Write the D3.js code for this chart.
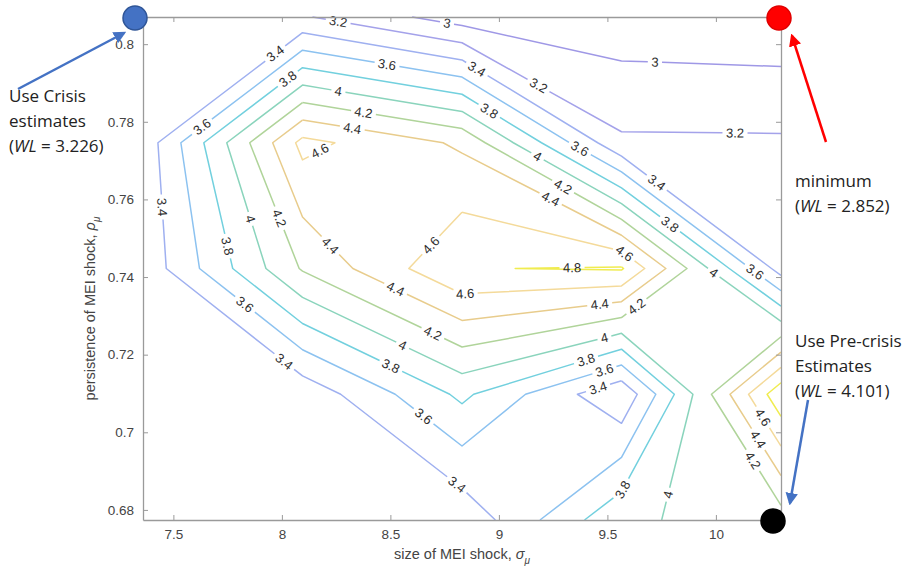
<!DOCTYPE html>
<html><head><meta charset="utf-8">
<script src="https://cdn.jsdelivr.net/npm/d3@7"></script>
<style>body{margin:0;background:#fff;} svg{display:block;}</style>
</head><body><svg id="chart" width="916" height="575"></svg>
<script>
// ---------------- data ----------------
const sigmaGrid = [7.36, 8.095, 8.83, 9.565, 10.30];          // size of MEI shock
const rhoGrid   = [0.807, 0.7746, 0.7422, 0.7098, 0.6774];    // persistence (top to bottom)
const wlGrid = [                                               // welfare loss WL
  [3.226, 3.220, 2.900, 2.876, 2.852],
  [3.270, 4.660, 4.365, 3.231, 3.228],
  [3.260, 4.220, 4.790, 4.820, 3.310],
  [3.250, 3.260, 3.845, 3.230, 4.950],
  [3.240, 3.240, 3.250, 3.966, 4.101]
];
const levels = [3.0, 3.2, 3.4, 3.6, 3.8, 4.0, 4.2, 4.4, 4.6, 4.8];
const levelColors = ["#9f98e6","#a4a2ea","#9fb0f0","#8cc2f0","#72d0de","#8ad4bc","#b0d49a","#e8cc8c","#f4da9a","#f0ec50"];
const xTicks = [7.5, 8, 8.5, 9, 9.5, 10];
const yTicks = [0.68, 0.70, 0.72, 0.74, 0.76, 0.78, 0.80];
// contour label spots: [level, sigma, rho]
const labelSpots = [
  [3.2,8.259,0.8057],[3.0,8.761,0.8055],[3.0,9.719,0.7954],[3.2,10.088,0.7771],
  [3.4,7.968,0.7977],[3.6,7.636,0.7784],[3.8,8.024,0.7913],[3.6,8.484,0.7946],
  [4.0,8.259,0.7874],[4.2,8.374,0.7817],[4.4,8.323,0.7779],[4.6,8.166,0.7735],
  [3.4,8.890,0.7928],[3.8,8.950,0.7823],[3.4,7.438,0.7580],[3.8,7.729,0.7477],
  [4.0,7.839,0.7547],[4.2,7.968,0.7547],[4.4,8.212,0.7475],[4.6,8.696,0.7477],
  [3.2,9.176,0.7887],[3.6,9.364,0.7722],[4.0,9.176,0.7709],[4.2,9.295,0.7632],
  [4.4,9.235,0.7598],[3.4,9.719,0.7637],[3.8,9.779,0.7529],[4.6,9.567,0.7452],
  [4.8,9.337,0.7426],[4.0,9.982,0.7405],[3.6,10.166,0.7403],[4.6,8.844,0.7361],
  [4.4,9.466,0.7323],[4.2,9.636,0.7323],[4.4,8.521,0.7366],[4.2,8.692,0.7251],
  [4.0,8.553,0.7220],[3.8,8.498,0.7166],[3.6,7.821,0.7323],[3.4,8.005,0.7178],
  [4.0,9.489,0.7238],[3.8,9.406,0.7178],[3.6,9.489,0.7155],[3.4,9.457,0.7114],
  [3.6,8.650,0.7039],[3.4,8.798,0.6859],[3.8,9.558,0.6856],[4.0,9.752,0.6843],
  [4.6,10.194,0.7031],[4.4,10.190,0.6980],[4.2,10.157,0.6923]
];
// annotated corner points
const cornerPoints = [
  {name:"crisis", sigma:7.36, rho:0.807, wl:3.226},
  {name:"minimum", sigma:10.30, rho:0.807, wl:2.852},
  {name:"precrisis", sigma:10.30, rho:0.6774, wl:4.101}
];

// ---------------- layout ----------------
const svg = d3.select("#chart");
const plot = {left:143, right:781, top:17, bottom:520};
const x = d3.scaleLinear().domain(d3.extent(sigmaGrid)).range([plot.left, plot.right]);
const y = d3.scaleLinear().domain(d3.extent(rhoGrid)).range([plot.bottom, plot.top]);
const AX = "#9a9a9a", TXT = "#444";
const FONT = "'Liberation Sans', Arial, Helvetica, sans-serif";

// ---------------- marching squares ----------------
function contourLines(level){
  const nR = rhoGrid.length, nC = sigmaGrid.length, Z = wlGrid;
  const pts = new Map(), adj = new Map();
  function ep(id, s1, r1, v1, s2, r2, v2){
    if(!pts.has(id)){ const t=(level-v1)/(v2-v1); pts.set(id,[s1+t*(s2-s1), r1+t*(r2-r1)]); }
    return id;
  }
  function link(a,b){
    if(!adj.has(a)) adj.set(a,[]); if(!adj.has(b)) adj.set(b,[]);
    adj.get(a).push(b); adj.get(b).push(a);
  }
  for(let i=0;i<nR-1;i++) for(let j=0;j<nC-1;j++){
    const a=Z[i][j], b=Z[i][j+1], c=Z[i+1][j+1], d=Z[i+1][j];
    const A=a>level, B=b>level, C=c>level, D=d>level;
    const s0=sigmaGrid[j], s1=sigmaGrid[j+1], r0=rhoGrid[i], r1=rhoGrid[i+1];
    const top = A!==B ? ep("h"+i+"_"+j, s0,r0,a, s1,r0,b) : null;
    const bot = D!==C ? ep("h"+(i+1)+"_"+j, s0,r1,d, s1,r1,c) : null;
    const lef = A!==D ? ep("v"+i+"_"+j, s0,r0,a, s0,r1,d) : null;
    const rig = B!==C ? ep("v"+i+"_"+(j+1), s1,r0,b, s1,r1,c) : null;
    const list = [top,rig,bot,lef].filter(e=>e!==null);
    if(list.length===2) link(list[0],list[1]);
    else if(list.length===4){
      const centerHigh = (a+b+c+d)/4 > level;
      if(A!==centerHigh){ link(top,lef); link(rig,bot); }
      else { link(top,rig); link(bot,lef); }
    }
  }
  const visited = new Set(), chains = [];
  function walk(start){
    const chain=[start]; visited.add(start);
    let prev=null, cur=start;
    while(true){
      const nb = adj.get(cur); let next=null;
      for(const n of nb){ if(n!==prev && !visited.has(n)){ next=n; break; } }
      if(next===null){
        const closed = chain.length>2 && nb.includes(start) && prev!==start;
        if(closed) chain.push(start);
        return {ids:chain, closed};
      }
      chain.push(next); visited.add(next); prev=cur; cur=next;
    }
  }
  for(const [k,v] of adj) if(v.length===1 && !visited.has(k)) chains.push(walk(k));
  for(const [k] of adj) if(!visited.has(k)) chains.push(walk(k));
  return chains.map(ch => ({closed:ch.closed, pts: ch.ids.map(id => [x(pts.get(id)[0]), y(pts.get(id)[1])])}));
}

// ---------------- contour lines + labels ----------------
const gLines = svg.append("g");
const gLabels = svg.append("g");
const lineGen = d3.line();

const allLines = levels.map((lv,k) => ({level:lv, color:levelColors[k], polys: contourLines(lv)}));
allLines.forEach(L => L.polys.forEach(p => {
  p.cum=[0];
  for(let i=1;i<p.pts.length;i++) p.cum.push(p.cum[i-1]+Math.hypot(p.pts[i][0]-p.pts[i-1][0], p.pts[i][1]-p.pts[i-1][1]));
  p.gaps=[];
}));

labelSpots.forEach(([lv, s, r]) => {
  const L = allLines.find(d => Math.abs(d.level-lv)<1e-9); if(!L) return;
  const px=x(s), py=y(r);
  let best=null;
  L.polys.forEach(p => {
    for(let i=1;i<p.pts.length;i++){
      const [x1,y1]=p.pts[i-1], [x2,y2]=p.pts[i];
      const dx=x2-x1, dy=y2-y1, len2=dx*dx+dy*dy; if(len2<1e-9) continue;
      let t=((px-x1)*dx+(py-y1)*dy)/len2; t=Math.max(0,Math.min(1,t));
      const qx=x1+t*dx, qy=y1+t*dy, dist=Math.hypot(px-qx,py-qy);
      if(!best || dist<best.dist) best={dist, p, qx, qy, s:p.cum[i-1]+t*Math.sqrt(len2), ang:Math.atan2(dy,dx)*180/Math.PI};
    }
  });
  if(!best) return;
  let a=best.ang; if(a>90) a-=180; if(a<=-90) a+=180;
  const t = gLabels.append("text")
    .attr("transform", `translate(${best.qx},${best.qy}) rotate(${a})`)
    .attr("text-anchor","middle").attr("dy","0.35em")
    .attr("font-family",FONT)
    .attr("font-size",13).attr("fill","#2e2e2e")
    .text(d3.format("~g")(lv));
  const w = t.node().getComputedTextLength();
  best.p.gaps.push([best.s - w/2 - 3.5, best.s + w/2 + 3.5]);
});

function subPath(p, sa, sb){
  const out=[]; const P=p.pts, C=p.cum;
  function at(s){
    for(let i=1;i<P.length;i++) if(s<=C[i]+1e-9){
      const seg=C[i]-C[i-1]; const t= seg>0 ? (s-C[i-1])/seg : 0;
      return [P[i-1][0]+t*(P[i][0]-P[i-1][0]), P[i-1][1]+t*(P[i][1]-P[i-1][1])];
    }
    return P[P.length-1];
  }
  out.push(at(sa));
  for(let i=0;i<P.length;i++) if(C[i]>sa && C[i]<sb) out.push(P[i]);
  out.push(at(sb));
  return out;
}

allLines.forEach(L => L.polys.forEach(p => {
  const total = p.cum[p.cum.length-1];
  let gaps=[];
  p.gaps.forEach(([a,b]) => {
    if(p.closed){
      if(a<0){ gaps.push([0,b]); gaps.push([total+a,total]); }
      else if(b>total){ gaps.push([a,total]); gaps.push([0,b-total]); }
      else gaps.push([a,b]);
    } else gaps.push([Math.max(0,a), Math.min(total,b)]);
  });
  gaps.sort((u,v)=>u[0]-v[0]);
  const merged=[];
  gaps.forEach(g => { if(merged.length && g[0]<=merged[merged.length-1][1]) merged[merged.length-1][1]=Math.max(merged[merged.length-1][1],g[1]); else merged.push(g.slice()); });
  let s=0; const pieces=[];
  merged.forEach(g => { if(g[0]>s) pieces.push([s,g[0]]); s=Math.max(s,g[1]); });
  if(s<total) pieces.push([s,total]);
  pieces.forEach(([a,b]) => {
    if(b-a<0.5) return;
    gLines.append("path").attr("d", lineGen(subPath(p,a,b)))
      .attr("fill","none").attr("stroke",L.color).attr("stroke-width",1.5)
      .attr("stroke-linejoin","round");
  });
}));

// ---------------- axes ----------------
const fmtY = d => d3.format(".2~f")(d);
const gx = svg.append("g").attr("transform",`translate(0,${plot.bottom})`)
  .call(d3.axisBottom(x).tickValues(xTicks).tickFormat(d3.format("~g")).tickSizeInner(-5).tickSizeOuter(0).tickPadding(9));
const gy = svg.append("g").attr("transform",`translate(${plot.left},0)`)
  .call(d3.axisLeft(y).tickValues(yTicks).tickFormat(fmtY).tickSizeInner(-5).tickSizeOuter(0).tickPadding(9));
const gt = svg.append("g").attr("transform",`translate(0,${plot.top})`)
  .call(d3.axisTop(x).tickValues(xTicks).tickFormat("").tickSizeInner(-5).tickSizeOuter(0));
const gr = svg.append("g").attr("transform",`translate(${plot.right},0)`)
  .call(d3.axisRight(y).tickValues(yTicks).tickFormat("").tickSizeInner(-5).tickSizeOuter(0));
[gx,gy,gt,gr].forEach(g => {
  g.selectAll(".domain").attr("stroke",AX).attr("stroke-width",1.3);
  g.selectAll(".tick line").attr("stroke",AX).attr("stroke-width",1);
  g.selectAll("text").attr("fill",TXT).attr("font-size",13.5).attr("font-family",FONT);
});

// axis titles
const xt = svg.append("text").attr("x",(plot.left+plot.right)/2).attr("y",559)
  .attr("text-anchor","middle").attr("font-family",FONT)
  .attr("font-size",14.5).attr("fill",TXT);
xt.append("tspan").text("size of MEI shock, ");
xt.append("tspan").attr("font-style","italic").text("σ");
xt.append("tspan").attr("font-style","italic").attr("font-size",10).attr("dy",5).text("μ");

const yt = svg.append("text").attr("transform",`translate(95,${(plot.top+plot.bottom)/2+40}) rotate(-90)`)
  .attr("text-anchor","middle").attr("font-family",FONT)
  .attr("font-size",14.5).attr("fill",TXT);
yt.append("tspan").text("persistence of MEI shock, ");
yt.append("tspan").attr("font-style","italic").text("ρ");
yt.append("tspan").attr("font-style","italic").attr("font-size",10).attr("dy",5).text("μ");

// ---------------- annotations ----------------
const defs = svg.append("defs");
function marker(id,color){
  defs.append("marker").attr("id",id).attr("viewBox","0 0 10 10").attr("refX",8).attr("refY",5)
    .attr("markerWidth",5).attr("markerHeight",5).attr("orient","auto-start-reverse")
    .append("path").attr("d","M0,0 L10,5 L0,10 z").attr("fill",color);
}
marker("arBlue","#4472c4"); marker("arRed","#ff0000");
const ann = svg.append("g");
ann.append("line").attr("x1",18).attr("y1",89).attr("x2",124).attr("y2",33)
  .attr("stroke","#4472c4").attr("stroke-width",2.5).attr("marker-end","url(#arBlue)");
ann.append("line").attr("x1",826).attr("y1",142).attr("x2",792).attr("y2",36)
  .attr("stroke","#ff0000").attr("stroke-width",2.5).attr("marker-end","url(#arRed)");
ann.append("line").attr("x1",808).attr("y1",400).attr("x2",790).attr("y2",503)
  .attr("stroke","#4472c4").attr("stroke-width",2.5).attr("marker-end","url(#arBlue)");

const dotStyle = {crisis:["#4472c4","#2f5597",-8,1], minimum:["#ff0000","#e00000",-2,1], precrisis:["#000000","#000000",-8,1]};
cornerPoints.forEach(c => {
  const st = dotStyle[c.name];
  ann.append("circle").attr("cx",x(c.sigma)+st[2]).attr("cy",y(c.rho)+st[3]).attr("r",12)
    .attr("fill",st[0]).attr("stroke",st[1]).attr("stroke-width",1.5);
});

function noteLines(xp, y0, lines){
  lines.forEach((ln,i) => {
    const t = ann.append("text").attr("x",xp).attr("y",y0+i*25)
      .attr("font-family","'Open Sans', 'Liberation Sans', sans-serif").attr("font-size",17).attr("fill","#222");
    if(ln.wl!==undefined){
      t.append("tspan").text("(");
      t.append("tspan").attr("font-style","italic").text("WL");
      t.append("tspan").text(" = " + d3.format(".3f")(ln.wl) + ")");
    } else t.text(ln);
  });
}
noteLines(9, 102, ["Use Crisis", "estimates", {wl:cornerPoints[0].wl}]);
noteLines(795, 187, ["minimum", {wl:cornerPoints[1].wl}]);
noteLines(795, 347, ["Use Pre-crisis", "Estimates", {wl:cornerPoints[2].wl}]);
</script></body></html>
